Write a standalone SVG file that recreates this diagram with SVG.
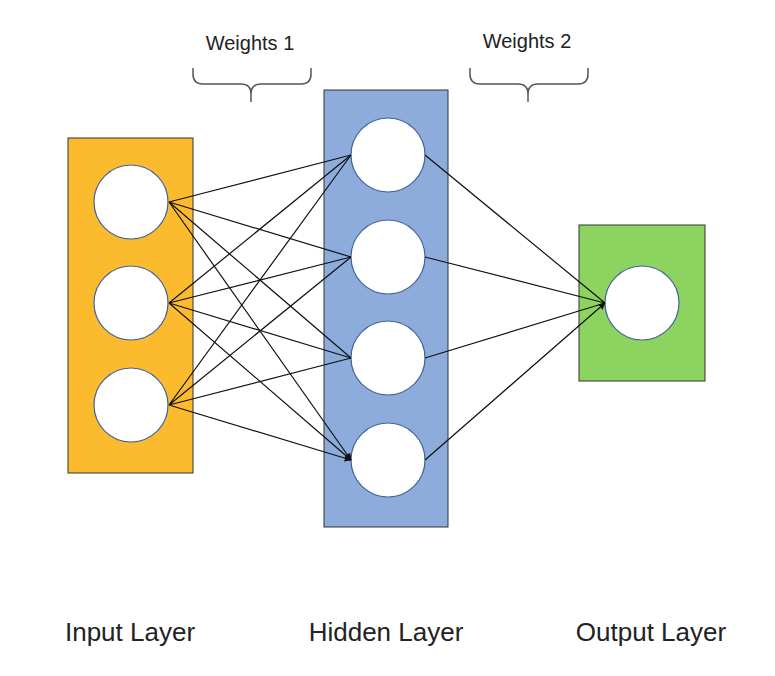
<svg xmlns="http://www.w3.org/2000/svg" width="775" height="676" viewBox="0 0 775 676">
<style>
.n{fill:#fff;stroke:#41659a;stroke-width:1.2}
.l{stroke:#111;stroke-width:1.2;fill:none;marker-end:url(#a)}
.t{font-family:"Liberation Sans",Arial,sans-serif;fill:#222}
.b{fill:none;stroke:#555;stroke-width:1.5}
</style>
<defs><marker id="a" viewBox="0 0 10 10" refX="9" refY="5" markerWidth="7" markerHeight="7" orient="auto" markerUnits="userSpaceOnUse"><path d="M0,0L10,5L0,10z" fill="#111"/></marker></defs>
<rect width="775" height="676" fill="#fff"/>
<g id="input"><rect x="68" y="138" width="125" height="335" fill="#FCBA2F" stroke="#333"/>
<circle class="n" cx="131" cy="202" r="37"/><circle class="n" cx="131" cy="303" r="37"/><circle class="n" cx="131" cy="405" r="37"/></g>
<g id="hidden"><rect x="324" y="90" width="124" height="437" fill="#8EACDB" stroke="#333"/>
<circle class="n" cx="388" cy="155" r="37"/><circle class="n" cx="388" cy="257" r="37"/><circle class="n" cx="388" cy="358" r="37"/><circle class="n" cx="388" cy="460" r="37"/></g>
<g id="output"><rect x="579" y="225" width="126" height="156" fill="#8DD35F" stroke="#333"/>
<circle class="n" cx="642" cy="303" r="37"/></g>
<g id="connectors">
<path class="l" d="M169,202L351,155M169,202L351,257M169,202L351,358M169,202L351,460"/>
<path class="l" d="M169,303L351,155M169,303L351,257M169,303L351,358M169,303L351,460"/>
<path class="l" d="M169,405L351,155M169,405L351,257M169,405L351,358M169,405L351,460"/>
<path class="l" d="M425,155L605,303M425,257L605,303M425,358L605,303M425,460L605,303"/>
</g>
<g id="weights1"><path class="b" d="M193,68v6q0,10 10,10h38q10,0 10,10v8M251,94q0,-10 10,-10h40q10,0 10,-10v-6"/>
<text class="t" x="250" y="50" font-size="20" text-anchor="middle">Weights 1</text></g>
<g id="weights2"><path class="b" d="M470,68v6q0,10 10,10h38q10,0 10,10v8M528,94q0,-10 10,-10h40q10,0 10,-10v-6"/>
<text class="t" x="527" y="48" font-size="20" text-anchor="middle">Weights 2</text></g>
<text class="t" x="130" y="641" font-size="26" text-anchor="middle">Input Layer</text>
<text class="t" x="386" y="641" font-size="26" text-anchor="middle">Hidden Layer</text>
<text class="t" x="651" y="641" font-size="26" text-anchor="middle">Output Layer</text>
</svg>
